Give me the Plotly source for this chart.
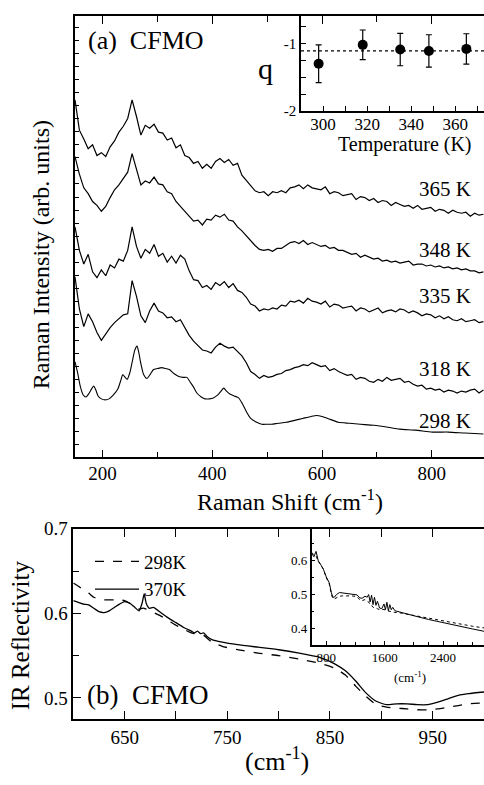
import plotly.graph_objects as go

# ---------------- DATA ----------------
RAMAN_X = [150, 158, 166, 174, 182, 190, 198, 206, 214, 222, 230, 238, 246, 254, 262, 270, 278, 286, 294, 302,
           310, 318, 326, 334, 342, 350, 358, 366, 374, 382, 390, 398, 406, 414, 422, 430, 438, 446, 454, 462,
           470, 478, 486, 494, 502, 510, 518, 526, 534, 542, 550, 558, 566, 574, 582, 590, 598, 606, 614, 622,
           630, 638, 646, 654, 662, 670, 678, 686, 694, 702, 710, 718, 726, 734, 742, 750, 758, 766, 774, 782,
           790, 798, 806, 814, 822, 830, 838, 846, 854, 862, 870, 878, 886, 894]

RAMAN_365 = [366, 335, 326, 316, 320, 309, 312, 308, 318, 324, 333, 339, 347, 366, 349, 330, 340, 337, 341, 333,
             332, 325, 327, 317, 320, 309, 307, 301, 303, 296, 300, 296, 303, 306, 302, 305, 299, 301,
             289, 284, 279, 273, 271, 272, 268, 272, 271, 273, 271, 276, 277, 279, 275, 279, 276, 275, 274, 277,
             270, 272, 271, 268, 269, 270, 264, 267, 266, 263, 265, 261, 263, 262, 258, 261, 259, 257, 258, 255,
             258, 254, 255, 256, 252, 254, 253, 250, 253, 251, 250, 251, 247, 250, 248, 249]

RAMAN_348 = [308, 290, 276, 270, 262, 258, 252, 257, 266, 274, 279, 285, 292, 311, 296, 279, 283, 281, 287, 280,
             279, 272, 270, 262, 257, 252, 248, 242, 243, 238, 244, 243, 248, 246, 249, 243, 242, 236,
             232, 227, 221, 217, 213, 212, 213, 211, 214, 214, 217, 220, 221, 219, 222, 218, 220, 218, 216, 217,
             214, 215, 212, 212, 210, 208, 209, 205, 207, 205, 203, 204, 201, 202, 200, 201, 199, 200, 201, 197,
             198, 198, 196, 197, 195, 196, 194, 195, 193, 194, 192, 193, 191, 191, 189, 190]

RAMAN_335 = [236, 212, 198, 208, 190, 184, 192, 186, 197, 194, 203, 201, 212, 236, 216, 204, 213, 209, 218, 206,
             209, 200, 206, 199, 207, 203, 191, 182, 181, 174, 176, 172, 179, 176, 180, 174, 178, 171,
             169, 164, 157, 155, 150, 152, 151, 153, 152, 156, 155, 160, 159, 161, 158, 163, 160, 159, 157, 160,
             154, 157, 156, 153, 154, 155, 150, 153, 152, 149, 151, 153, 148, 150, 151, 149, 152, 151, 148, 150,
             148, 145, 147, 146, 143, 145, 142, 144, 141, 140, 142, 139, 140, 141, 138, 139]

RAMAN_318 = [185, 152, 134, 147, 139, 128, 120, 127, 133, 138, 142, 146, 147, 181, 165, 145, 138, 150, 158, 150,
             148, 143, 144, 139, 141, 133, 125, 119, 114, 110, 109, 107, 113, 117, 114, 112, 113, 108,
             104, 97, 88, 85, 81, 84, 82, 83, 85, 86, 89, 90, 92, 93, 95, 94, 97, 95, 93, 94,
             89, 91, 88, 86, 84, 85, 80, 82, 81, 78, 77, 80, 78, 82, 79, 80, 81, 77, 78, 75,
             73, 74, 70, 71, 69, 70, 67, 69, 68, 66, 68, 67, 69, 70, 66, 69]

RAMAN_298_X = [150, 155, 160, 165, 170, 176, 180, 184, 188, 192, 198, 205, 212, 220, 228, 234, 237, 240, 245, 250,
               255, 259, 263, 266, 270, 275, 281, 287, 293, 300, 308, 315, 322, 330, 339, 347, 354, 360, 366, 372,
               380, 387, 395, 402, 410, 416, 421, 426, 432, 440, 448, 455, 463, 470, 481, 490, 500, 508, 520, 535,
               550, 565, 580, 590, 600, 615, 630, 650, 670, 694, 720, 741, 770, 801, 830, 860, 894]
RAMAN_298 = [98, 86, 72, 64, 62, 66, 70, 73, 69, 63, 60, 59, 60, 64, 70, 80, 85, 83, 80, 87,
             100, 110, 114, 108, 96, 85, 81, 85, 90, 91, 92, 91, 90, 86, 83, 82, 82, 77, 72, 66,
             62, 60, 60, 61, 64, 68, 71, 68, 65, 63, 61, 55, 46, 40, 36, 34, 34, 34, 35, 36,
             38, 40, 42, 43, 42, 39, 36, 35, 34, 33, 31, 29, 28, 26, 26, 25, 24]

CURVE_LABELS = ["365 K", "348 K", "335 K", "318 K", "298 K"]

Q_T = [298, 318, 335, 348, 365]
Q_VAL = [-1.30, -1.02, -1.09, -1.11, -1.08]
Q_ERR = [0.28, 0.22, 0.24, 0.24, 0.225]
Q_MEAN = -1.11

IR_X = [600, 605, 610, 615, 620, 625, 630, 635, 640, 645, 650, 655, 660, 664, 667, 669, 671, 674, 678, 685,
        692, 700, 708, 715, 718, 721, 724, 727, 730, 735, 745, 760, 780, 800, 820, 840, 855, 865, 875, 885,
        895, 905, 915, 925, 935, 945, 955, 965, 975, 985, 1000]
IR_370 = [0.615, 0.613, 0.611, 0.610, 0.606, 0.602, 0.601, 0.603, 0.607, 0.611, 0.614, 0.612, 0.607, 0.603, 0.612,
          0.623, 0.612, 0.606, 0.607, 0.601, 0.595, 0.589, 0.583, 0.579, 0.577, 0.579, 0.576, 0.577, 0.573, 0.569,
          0.566, 0.563, 0.560, 0.557, 0.553, 0.548, 0.540, 0.532, 0.520, 0.506, 0.496, 0.492, 0.493, 0.493, 0.492,
          0.492, 0.495, 0.499, 0.503, 0.505, 0.507]
IR_298 = [0.636, 0.632, 0.628, 0.624, 0.619, 0.617, 0.616, 0.616, 0.616, 0.616, 0.615, 0.612, 0.608, 0.605, 0.606,
          0.606, 0.605, 0.603, 0.601, 0.597, 0.592, 0.586, 0.581, 0.577, 0.576, 0.576, 0.575, 0.574, 0.571, 0.566,
          0.561, 0.557, 0.553, 0.550, 0.546, 0.541, 0.535, 0.527, 0.514, 0.502, 0.492, 0.489, 0.488, 0.487, 0.486,
          0.486, 0.487, 0.489, 0.491, 0.493, 0.494]

IRW_X = [600, 630, 660, 690, 720, 760, 800, 840, 870, 890, 910, 940, 980, 1020, 1080, 1150, 1220, 1260, 1290, 1330,
         1360, 1380, 1400, 1420, 1440, 1460, 1480, 1500, 1530, 1560, 1590, 1610, 1630, 1650, 1670, 1690, 1710, 1740,
         1800, 1900, 2000, 2200, 2400, 2600, 2800, 2960]
IRW_370 = [0.622, 0.612, 0.628, 0.600, 0.590, 0.575, 0.552, 0.535, 0.505, 0.492, 0.492, 0.500, 0.506, 0.505, 0.502,
           0.500, 0.499, 0.490, 0.489, 0.495, 0.492, 0.500, 0.478, 0.498, 0.470, 0.492, 0.468, 0.480, 0.460, 0.458,
           0.472, 0.455, 0.477, 0.452, 0.470, 0.455, 0.462, 0.452, 0.448, 0.442, 0.437, 0.426, 0.416, 0.406, 0.398,
           0.391]
IRW_298 = [0.625, 0.618, 0.615, 0.598, 0.590, 0.575, 0.550, 0.532, 0.500, 0.488, 0.487, 0.490, 0.495, 0.496, 0.497,
           0.496, 0.494, 0.484, 0.482, 0.485, 0.480, 0.478, 0.470, 0.468, 0.462, 0.462, 0.460, 0.458, 0.455, 0.455,
           0.456, 0.453, 0.452, 0.450, 0.449, 0.448, 0.448, 0.447, 0.446, 0.442, 0.438, 0.429, 0.421, 0.413, 0.406,
           0.401]

# ---------------- FIGURE ----------------
W, H = 484, 785
FONT = "Times New Roman, Liberation Serif, DejaVu Serif, serif"


def fx(px):
    return px / W


def fy(py):
    return 1 - py / H


fig = go.Figure()
blk = "black"

for ys in [RAMAN_365, RAMAN_348, RAMAN_335, RAMAN_318]:
    fig.add_trace(go.Scatter(x=RAMAN_X, y=ys, mode="lines", line=dict(color=blk, width=1.2),
                             showlegend=False, xaxis="x", yaxis="y"))
fig.add_trace(go.Scatter(x=RAMAN_298_X, y=RAMAN_298, mode="lines",
                         line=dict(color=blk, width=1.1, shape="spline", smoothing=0.6),
                         showlegend=False, xaxis="x", yaxis="y"))

fig.add_trace(go.Scatter(x=Q_T, y=Q_VAL, mode="markers",
                         marker=dict(color=blk, size=10),
                         error_y=dict(type="data", array=Q_ERR, color=blk, thickness=1.2, width=3),
                         showlegend=False, xaxis="x2", yaxis="y2"))

fig.add_trace(go.Scatter(x=IR_X, y=IR_298, mode="lines", name="298K",
                         line=dict(color=blk, width=1.3, dash="dash", shape="spline", smoothing=0.5),
                         xaxis="x3", yaxis="y3"))
fig.add_trace(go.Scatter(x=IR_X, y=IR_370, mode="lines", name="370K",
                         line=dict(color=blk, width=1.3, shape="spline", smoothing=0.5),
                         xaxis="x3", yaxis="y3"))

fig.add_trace(go.Scatter(x=IRW_X, y=IRW_298, mode="lines", line=dict(color=blk, width=1.0, dash="dot"),
                         showlegend=False, xaxis="x4", yaxis="y4"))
fig.add_trace(go.Scatter(x=IRW_X, y=IRW_370, mode="lines", line=dict(color=blk, width=1.0),
                         showlegend=False, xaxis="x4", yaxis="y4"))

fig.add_shape(type="line", xref="x2 domain", yref="y2", x0=0, x1=1, y0=Q_MEAN, y1=Q_MEAN,
              line=dict(color=blk, width=1.2, dash="dot"))

tickfont = dict(family=FONT, size=19, color=blk)
common = dict(showline=True, linecolor=blk, linewidth=1.5, ticks="inside", tickcolor=blk,
              showgrid=False, zeroline=False)

fig.update_layout(
    width=W, height=H, margin=dict(l=0, r=0, t=0, b=0),
    paper_bgcolor="white", plot_bgcolor="rgba(0,0,0,0)",
    font=dict(family=FONT, color=blk),
    xaxis=dict(domain=[fx(75), 1], range=[150, 895], anchor="y", tickvals=[200, 400, 600, 800],
               ticklen=8, tickwidth=1.2, mirror="ticks", tickfont=tickfont, ticklabelstandoff=-2,
               minor=dict(tickvals=[300, 500, 700], ticklen=6, tickwidth=1.2, ticks="inside", tickcolor=blk),
               **common),
    yaxis=dict(domain=[fy(458), fy(6)], range=[0, 452], anchor="x", tick0=0, dtick=13.33,
               ticklen=4, tickwidth=1, showticklabels=False, **common),
    xaxis2=dict(domain=[fx(301), 1], range=[290, 373], anchor="y2", tickvals=[300, 320, 340, 360],
                ticklen=5, tickwidth=1.2, tickfont=dict(family=FONT, size=17, color=blk),
                ticklabelstandoff=-3,
                minor=dict(tickvals=[310, 330, 350, 370], ticklen=5, tickwidth=1.2, ticks="inside", tickcolor=blk),
                **common),
    yaxis2=dict(domain=[fy(103.3), fy(6)], range=[-2, -0.59], anchor="x2", tickvals=[-2, -1],
                ticktext=["-2", "-1"], ticklen=5, tickwidth=1.2,
                tickfont=dict(family=FONT, size=15, color=blk),
                minor=dict(tickvals=[-1.75, -1.5, -1.25, -0.75], ticklen=5, tickwidth=1.2, ticks="inside", tickcolor=blk),
                **common),
    xaxis3=dict(domain=[fx(73.3), 1], range=[600, 1000], anchor="y3", tickvals=[650, 750, 850, 950],
                ticklen=8, tickwidth=1.2, mirror="ticks", tickfont=tickfont,
                minor=dict(tickvals=[700, 800, 900], ticklen=8, tickwidth=1.2, ticks="inside", tickcolor=blk),
                **common),
    yaxis3=dict(domain=[fy(725.7), fy(531)], range=[0.475, 0.7], anchor="x3", tickvals=[0.5, 0.6, 0.7],
                ticktext=["0.5", "0.6", "0.7"], ticklen=8, tickwidth=1.2, tickfont=tickfont,
                minor=dict(tickvals=[0.55, 0.65], ticklen=6, tickwidth=1.2, ticks="inside", tickcolor=blk),
                **common),
    xaxis4=dict(domain=[fx(311.7), 1], range=[600, 2960], anchor="y4", tickvals=[800, 1600, 2400],
                ticklen=4, tickwidth=1, tickfont=dict(family=FONT, size=13, color=blk),
                minor=dict(tickvals=[1000, 1200, 1400, 1800, 2000, 2200, 2600, 2800], ticklen=3, tickwidth=1,
                           ticks="inside", tickcolor=blk),
                **common),
    yaxis4=dict(domain=[fy(650), fy(531)], range=[0.35, 0.695], anchor="x4", tickvals=[0.4, 0.5, 0.6],
                ticktext=["0.4", "0.5", "0.6"], ticklen=4, tickwidth=1,
                tickfont=dict(family=FONT, size=13, color=blk),
                minor=dict(tickvals=[0.45, 0.55, 0.65], ticklen=3, tickwidth=1, ticks="inside", tickcolor=blk),
                **common),
    legend=dict(x=fx(90), y=fy(545), xanchor="left", yanchor="top", bgcolor="rgba(0,0,0,0)",
                font=dict(family=FONT, size=19, color=blk), tracegroupgap=0, itemwidth=44),
)


def ann(text, px, py, size, xanchor="center", angle=0):
    fig.add_annotation(text=text, x=fx(px), y=fy(py), xref="paper", yref="paper", showarrow=False,
                       xanchor=xanchor, yanchor="middle", textangle=angle,
                       font=dict(family=FONT, size=size, color=blk))


ann("(a)\u00a0\u00a0CFMO", 86, 31, 26, "left")
ann("q", 265, 60, 30)
ann("Temperature (K)", 405, 138, 20)
label_y = [183, 246, 293, 367, 421]
for t, py in zip(CURVE_LABELS, label_y):
    ann(t, 473, py, 21, "right")
ann("Raman Intensity (arb. units)", 41, 251, 24, angle=-90)
ann("Raman Shift (cm<sup>-1</sup>)", 290, 501, 24)
ann("IR Reflectivity", 20, 640, 25, angle=-90)
ann("(cm<sup>-1</sup>)", 277, 767, 26)
ann("(b)\u00a0\u00a0CFMO", 85, 701, 27, "left")
ann("(cm<sup>-1</sup>)", 410, 683, 13)

fig.write_html("out.html")
